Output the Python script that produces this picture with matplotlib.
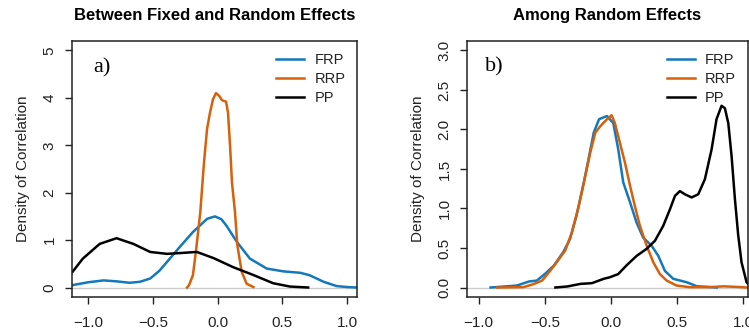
import matplotlib.pyplot as plt

plt.rcParams['font.family'] = ['Liberation Sans', 'DejaVu Sans']

# colours of the three correlation types
col_frp = '#1478BC'
col_rrp = '#D8600A'
col_pp = '#000000'

labels = ['FRP', 'RRP', 'PP']

# a) between fixed and random effects
frp_a_x = [-1.13, -1.12, -1.0, -0.88, -0.78, -0.68, -0.6, -0.52, -0.45, -0.39, -0.29, -0.19, -0.08,
           -0.02, 0.03, 0.07, 0.15, 0.25, 0.38, 0.51, 0.64, 0.71, 0.82, 0.92, 1.0, 1.08]
frp_a_y = [0.04, 0.05, 0.11, 0.15, 0.13, 0.10, 0.12, 0.19, 0.35, 0.54, 0.86, 1.17, 1.45,
           1.50, 1.44, 1.30, 0.96, 0.61, 0.40, 0.34, 0.31, 0.26, 0.12, 0.03, 0.01, 0.0]
rrp_a_x = [-0.235, -0.22, -0.19, -0.166, -0.133, -0.114, -0.104, -0.081, -0.058, -0.035, -0.012,
           0.01, 0.035, 0.066, 0.081, 0.097, 0.112, 0.135, 0.153, 0.187, 0.225, 0.277]
rrp_a_y = [0.0, 0.05, 0.26, 0.78, 1.59, 2.29, 2.65, 3.34, 3.69, 3.97, 4.10,
           4.05, 3.95, 3.92, 3.69, 2.98, 2.20, 1.59, 0.89, 0.33, 0.08, 0.01]
pp_a_x = [-1.13, -1.12, -1.04, -0.91, -0.78, -0.65, -0.52, -0.39, -0.27, -0.16, -0.03,
          0.12, 0.28, 0.43, 0.56, 0.70]
pp_a_y = [0.31, 0.33, 0.61, 0.92, 1.04, 0.92, 0.75, 0.71, 0.73, 0.75, 0.62,
          0.43, 0.26, 0.09, 0.02, 0.0]

# b) among random effects
frp_b_x = [-0.91, -0.71, -0.62, -0.56, -0.50, -0.43, -0.36, -0.31, -0.26, -0.21, -0.17, -0.13,
           -0.09, -0.03, 0.018, 0.055, 0.093, 0.144, 0.194, 0.244, 0.307, 0.358, 0.408, 0.471,
           0.572, 0.647, 0.8]
frp_b_y = [0.0, 0.025, 0.076, 0.088, 0.17, 0.28, 0.45, 0.61, 0.91, 1.29, 1.62, 1.96,
           2.13, 2.17, 2.08, 1.75, 1.33, 1.08, 0.82, 0.63, 0.53, 0.40, 0.21, 0.11,
           0.067, 0.017, 0.0]
rrp_b_x = [-0.86, -0.66, -0.58, -0.52, -0.46, -0.41, -0.345, -0.295, -0.244, -0.194, -0.156,
           -0.118, -0.081, -0.03, 0.005, 0.03, 0.068, 0.106, 0.144, 0.181, 0.219, 0.27, 0.32,
           0.37, 0.421, 0.496, 0.597, 0.75, 0.85, 0.95, 1.03]
rrp_b_y = [0.0, 0.005, 0.046, 0.088, 0.21, 0.32, 0.47, 0.70, 1.03, 1.41, 1.71,
           1.96, 2.04, 2.13, 2.18, 2.08, 1.83, 1.58, 1.29, 1.03, 0.78, 0.53, 0.32,
           0.17, 0.088, 0.025, 0.004, 0.005, 0.015, 0.008, 0.0]
pp_b_x = [-0.42, -0.33, -0.23, -0.144, -0.055, -0.008, 0.055, 0.118, 0.194, 0.27, 0.332, 0.395,
          0.446, 0.484, 0.521, 0.559, 0.61, 0.66, 0.71, 0.761, 0.798, 0.836, 0.861, 0.887,
          0.912, 0.937, 0.962, 0.987, 1.025, 1.06]
pp_b_y = [0.0, 0.013, 0.046, 0.055, 0.11, 0.13, 0.17, 0.28, 0.40, 0.49, 0.59, 0.78,
          0.99, 1.16, 1.22, 1.18, 1.14, 1.18, 1.37, 1.75, 2.13, 2.30, 2.27, 2.08,
          1.66, 1.12, 0.66, 0.32, 0.067, 0.0]

fig = plt.figure(figsize=(7.49, 3.34), dpi=100)
ax1 = fig.add_axes([0.0961, 0.1108, 0.3805, 0.7665])
ax2 = fig.add_axes([0.6235, 0.1108, 0.3750, 0.7665])


def panel(ax, curves, title, tag, xlim, ylim, yticks, yticklabels, tagpos):
    ax.axhline(0, color='#cccccc', lw=1, zorder=1)
    for (x, y), c, lab in zip(curves, [col_frp, col_rrp, col_pp], labels):
        ax.plot(x, y, color=c, lw=1.8, label=lab, solid_joinstyle='round', zorder=2)
    ax.set_xlim(*xlim)
    ax.set_ylim(*ylim)
    ax.set_xticks([-1.0, -0.5, 0.0, 0.5, 1.0])
    ax.set_xticklabels(['\u22121.0', '\u22120.5', '0.0', '0.5', '1.0'])
    ax.set_yticks(yticks)
    ax.set_yticklabels(yticklabels, rotation=90, va='center')
    ax.tick_params(axis='x', length=5, width=1, pad=9, labelsize=11, colors='#222222')
    ax.tick_params(axis='y', length=5, width=1, pad=6, labelsize=11, colors='#222222')
    for s in ax.spines.values():
        s.set_linewidth(1.1)
        s.set_color('#222222')
    ax.set_ylabel('Density of Correlation', fontsize=11, labelpad=9, color='#222222')
    ax.set_title(title, fontsize=12, fontweight='bold', pad=15)
    ax.text(tagpos[0], tagpos[1], tag, transform=ax.transAxes, family='Liberation Serif',
            fontsize=16, ha='left', va='center')
    leg = ax.legend(loc='upper right', bbox_to_anchor=(1.0, 1.0), frameon=False, fontsize=10.5,
                    handlelength=1.9, handletextpad=0.7, labelspacing=0.35, borderaxespad=0.4)
    for t in leg.get_texts():
        t.set_color('#222222')


panel(ax1, [(frp_a_x, frp_a_y), (rrp_a_x, rrp_a_y), (pp_a_x, pp_a_y)],
      'Between Fixed and Random Effects', 'a)', (-1.124, 1.077), (-0.2, 5.2),
      [0, 1, 2, 3, 4, 5], ['0', '1', '2', '3', '4', '5'], (0.075, 0.895))
panel(ax2, [(frp_b_x, frp_b_y), (rrp_b_x, rrp_b_y), (pp_b_x, pp_b_y)],
      'Among Random Effects', 'b)', (-1.088, 1.035), (-0.12, 3.12),
      [0, 0.5, 1, 1.5, 2, 2.5, 3], ['0.0', '0.5', '1.0', '1.5', '2.0', '2.5', '3.0'],
      (0.065, 0.9))

fig.savefig('out.png', dpi=100)
